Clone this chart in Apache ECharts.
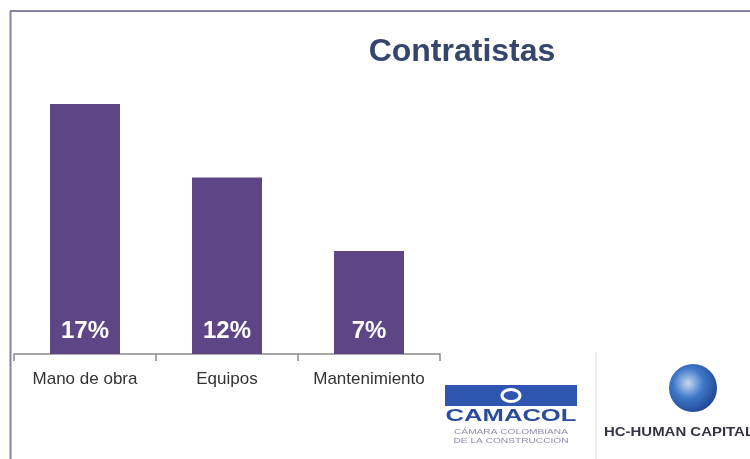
<!DOCTYPE html>
<html>
<head>
<meta charset="utf-8">
<script src="https://cdn.jsdelivr.net/npm/echarts@6/dist/echarts.min.js"></script>
<style>html,body{margin:0;padding:0;background:#fff}#c{width:750px;height:459px}</style>
</head>
<body>
<div id="c"></div>
<script>
const titleText = 'Contratistas';
const categories = ['Mano de obra', 'Equipos', 'Mantenimiento'];
const values = [17, 12, 7];

const NARROW = '"Liberation Sans Narrow", "Arial Narrow", "Liberation Sans", sans-serif';
const chart = echarts.init(document.getElementById('c'), null, {renderer: 'canvas'});
chart.setOption({
  backgroundColor: '#ffffff',
  animation: false,
  title: {
    text: titleText,
    left: 457, top: 31, textAlign: 'center',
    textStyle: {fontFamily: NARROW, fontWeight: 'bold', fontSize: 32, color: '#34466b'}
  },
  grid: {left: 14, right: 310, top: 60, bottom: 105, containLabel: false},
  xAxis: {
    type: 'category',
    data: categories,
    boundaryGap: true,
    axisLine: {show: true, lineStyle: {color: '#8a8a8a', width: 1.5}},
    axisTick: {show: true, interval: 0, length: 7, alignWithLabel: false, lineStyle: {color: '#8a8a8a', width: 1.5}},
    axisLabel: {interval: 0, hideOverlap: false, fontFamily: NARROW, fontSize: 17, color: '#333333', margin: 17}
  },
  yAxis: {
    type: 'value', min: 0, max: 20, show: false,
    splitLine: {show: false}
  },
  series: [{
    type: 'bar',
    data: values,
    barWidth: 70,
    itemStyle: {color: '#5e4585'},
    label: {
      show: true, position: 'insideBottom', distance: 11,
      formatter: '{c}%',
      fontFamily: NARROW, fontWeight: 'bold', fontSize: 24, color: '#ffffff'
    }
  }],
  graphic: [
    {type: 'line', shape: {x1: 10, y1: 11, x2: 750, y2: 11}, style: {stroke: '#8b80a3', lineWidth: 2}},
    {type: 'line', shape: {x1: 10.5, y1: 11, x2: 10.5, y2: 459}, style: {stroke: '#8b80a3', lineWidth: 2}},
    {type: 'line', shape: {x1: 596, y1: 352, x2: 596, y2: 459}, style: {stroke: '#eeeeee', lineWidth: 2}},
    // CAMACOL logo
    {type: 'rect', shape: {x: 445, y: 385, width: 132, height: 21}, style: {fill: '#2e56b0'}},
    {type: 'ellipse', shape: {cx: 511, cy: 395.5, rx: 9, ry: 6}, style: {fill: 'none', stroke: '#ffffff', lineWidth: 3}},
    {type: 'text', x: 511, y: 417, scaleX: 1.6, style: {text: 'CAMACOL', x: 0, y: 0, align: 'center', verticalAlign: 'middle', fontFamily: '"Liberation Sans", sans-serif', fontWeight: 'bold', fontSize: 16, fill: '#2b4c9c'}},
    {type: 'text', x: 511, y: 432, scaleX: 1.45, style: {text: 'CÁMARA COLOMBIANA', x: 0, y: 0, align: 'center', verticalAlign: 'middle', fontFamily: '"Liberation Sans", sans-serif', fontSize: 7, fill: '#8c8ca8'}},
    {type: 'text', x: 511, y: 441, scaleX: 1.45, style: {text: 'DE LA CONSTRUCCIÓN', x: 0, y: 0, align: 'center', verticalAlign: 'middle', fontFamily: '"Liberation Sans", sans-serif', fontSize: 7, fill: '#8c8ca8'}},
    // HC logo
    {type: 'circle', shape: {cx: 693, cy: 388, r: 24}, style: {fill: new echarts.graphic.RadialGradient(0.4, 0.4, 0.7, [{offset: 0, color: '#c6d8f2'}, {offset: 0.45, color: '#3f78c8'}, {offset: 1, color: '#1c3d8c'}])}},
    {type: 'text', x: 604, y: 432, scaleX: 1.15, style: {text: 'HC-HUMAN CAPITAL', x: 0, y: 0, align: 'left', verticalAlign: 'middle', fontFamily: '"Liberation Sans", sans-serif', fontWeight: 'bold', fontSize: 13, fill: '#333344'}}
  ]
});
</script>
</body>
</html>
